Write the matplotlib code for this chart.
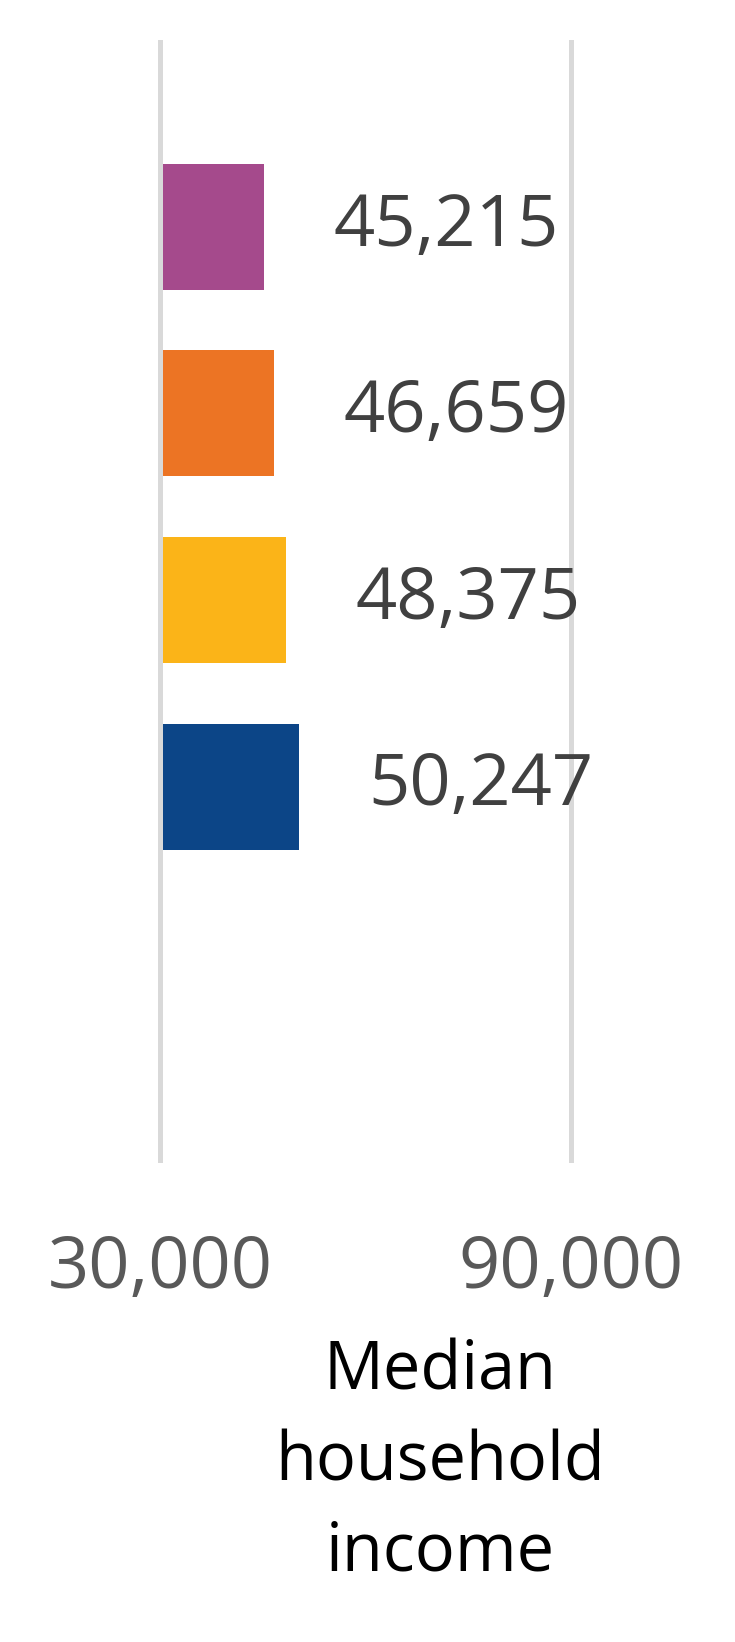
import matplotlib.pyplot as plt

categories = ["A", "B", "C", "D"]
values = [45215, 46659, 48375, 50247]
colors = ["#A54A8C", "#EC7424", "#FBB418", "#0C4587"]
ticks = [30000, 90000]
tick_labels = ["30,000", "90,000"]

plt.rcParams['font.family'] = ['Open Sans', 'DejaVu Sans']

fig = plt.figure(figsize=(7.35, 16.42), dpi=100)
ax = fig.add_axes([160 / 735, 482 / 1642, 411 / 735, 1118 / 1642])

pos = list(range(len(categories)))
base = ticks[0]
ax.barh(pos, [v - base for v in values], left=base, height=0.675,
        color=colors, zorder=3)

# grid lines drawn over the bar start, like the original
for t in ticks:
    ax.axvline(t, color='#d9d9d9', linewidth=3.6, zorder=4, clip_on=False)

for p, v in zip(pos, values):
    ax.annotate(f"{v:,}", (v, p), xytext=(50, 0), textcoords='offset points',
                ha='left', va='center', fontsize=52, color='#404040', zorder=6)

ax.set_xlim(ticks[0], ticks[-1])
ax.set_ylim(5.0, -0.99)
ax.set_xticks(ticks)
ax.set_xticklabels(tick_labels)
ax.set_yticks([])
ax.tick_params(axis='x', length=0, pad=53, labelsize=52, labelcolor='#595959')
for s in ax.spines.values():
    s.set_visible(False)

fig.text(440 / 735, 1 - 1338 / 1642, "Median\nhousehold\nincome", ha='center',
         va='top', fontsize=48, color='black', linespacing=1.45)

fig.savefig('out.png', dpi=100)
